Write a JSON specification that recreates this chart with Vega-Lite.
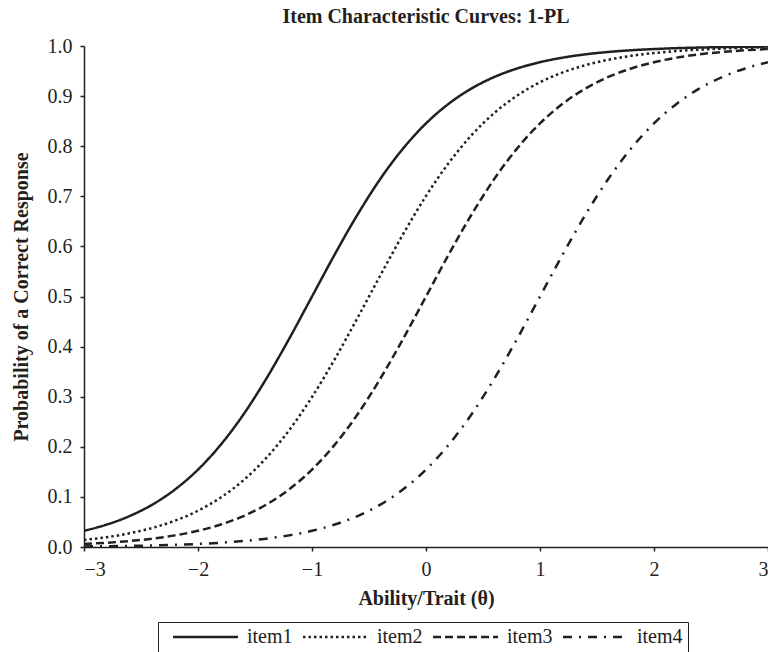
{
  "$schema": "https://vega.github.io/schema/vega-lite/v6.json",
  "autosize": {"type": "none"},
  "padding": {"left": 84, "top": 46, "right": 0, "bottom": 105},
  "width": 684,
  "height": 501,
  "background": "white",
  "title": {
    "text": "Item Characteristic Curves: 1-PL",
    "font": "Liberation Serif",
    "fontSize": 20,
    "fontWeight": "bold",
    "color": "#231f20",
    "anchor": "middle",
    "frame": "group",
    "baseline": "alphabetic",
    "offset": -7
  },
  "data": {
    "values": [
      {"t": -3, "i": "item1", "p": 0.0323}, {"t": -2.8, "i": "item1", "p": 0.0448}, {"t": -2.6, "i": "item1", "p": 0.0618}, {"t": -2.4, "i": "item1", "p": 0.0847}, {"t": -2.2, "i": "item1", "p": 0.1151}, {"t": -2, "i": "item1", "p": 0.1545}, {"t": -1.8, "i": "item1", "p": 0.2043}, {"t": -1.6, "i": "item1", "p": 0.265}, {"t": -1.4, "i": "item1", "p": 0.3363}, {"t": -1.2, "i": "item1", "p": 0.4158}, {"t": -1, "i": "item1", "p": 0.5}, {"t": -0.8, "i": "item1", "p": 0.5842}, {"t": -0.6, "i": "item1", "p": 0.6637}, {"t": -0.4, "i": "item1", "p": 0.735}, {"t": -0.2, "i": "item1", "p": 0.7957}, {"t": 0, "i": "item1", "p": 0.8455}, {"t": 0.2, "i": "item1", "p": 0.8849}, {"t": 0.4, "i": "item1", "p": 0.9153}, {"t": 0.6, "i": "item1", "p": 0.9382}, {"t": 0.8, "i": "item1", "p": 0.9552}, {"t": 1, "i": "item1", "p": 0.9677}, {"t": 1.2, "i": "item1", "p": 0.9768}, {"t": 1.4, "i": "item1", "p": 0.9834}, {"t": 1.6, "i": "item1", "p": 0.9881}, {"t": 1.8, "i": "item1", "p": 0.9915}, {"t": 2, "i": "item1", "p": 0.9939}, {"t": 2.2, "i": "item1", "p": 0.9957}, {"t": 2.4, "i": "item1", "p": 0.9969}, {"t": 2.6, "i": "item1", "p": 0.9978}, {"t": 2.8, "i": "item1", "p": 0.9984}, {"t": 3, "i": "item1", "p": 0.9989},
      {"t": -3, "i": "item2", "p": 0.0141}, {"t": -2.8, "i": "item2", "p": 0.0196}, {"t": -2.6, "i": "item2", "p": 0.0274}, {"t": -2.4, "i": "item2", "p": 0.0381}, {"t": -2.2, "i": "item2", "p": 0.0527}, {"t": -2, "i": "item2", "p": 0.0724}, {"t": -1.8, "i": "item2", "p": 0.0989}, {"t": -1.6, "i": "item2", "p": 0.1335}, {"t": -1.4, "i": "item2", "p": 0.178}, {"t": -1.2, "i": "item2", "p": 0.2333}, {"t": -1, "i": "item2", "p": 0.2994}, {"t": -0.8, "i": "item2", "p": 0.3752}, {"t": -0.6, "i": "item2", "p": 0.4576}, {"t": -0.4, "i": "item2", "p": 0.5424}, {"t": -0.2, "i": "item2", "p": 0.6248}, {"t": 0, "i": "item2", "p": 0.7006}, {"t": 0.2, "i": "item2", "p": 0.7667}, {"t": 0.4, "i": "item2", "p": 0.822}, {"t": 0.6, "i": "item2", "p": 0.8665}, {"t": 0.8, "i": "item2", "p": 0.9011}, {"t": 1, "i": "item2", "p": 0.9276}, {"t": 1.2, "i": "item2", "p": 0.9473}, {"t": 1.4, "i": "item2", "p": 0.9619}, {"t": 1.6, "i": "item2", "p": 0.9726}, {"t": 1.8, "i": "item2", "p": 0.9804}, {"t": 2, "i": "item2", "p": 0.9859}, {"t": 2.2, "i": "item2", "p": 0.99}, {"t": 2.4, "i": "item2", "p": 0.9928}, {"t": 2.6, "i": "item2", "p": 0.9949}, {"t": 2.8, "i": "item2", "p": 0.9963}, {"t": 3, "i": "item2", "p": 0.9974},
      {"t": -3, "i": "item3", "p": 0.0061}, {"t": -2.8, "i": "item3", "p": 0.0085}, {"t": -2.6, "i": "item3", "p": 0.0119}, {"t": -2.4, "i": "item3", "p": 0.0166}, {"t": -2.2, "i": "item3", "p": 0.0232}, {"t": -2, "i": "item3", "p": 0.0323}, {"t": -1.8, "i": "item3", "p": 0.0448}, {"t": -1.6, "i": "item3", "p": 0.0618}, {"t": -1.4, "i": "item3", "p": 0.0847}, {"t": -1.2, "i": "item3", "p": 0.1151}, {"t": -1, "i": "item3", "p": 0.1545}, {"t": -0.8, "i": "item3", "p": 0.2043}, {"t": -0.6, "i": "item3", "p": 0.265}, {"t": -0.4, "i": "item3", "p": 0.3363}, {"t": -0.2, "i": "item3", "p": 0.4158}, {"t": 0, "i": "item3", "p": 0.5}, {"t": 0.2, "i": "item3", "p": 0.5842}, {"t": 0.4, "i": "item3", "p": 0.6637}, {"t": 0.6, "i": "item3", "p": 0.735}, {"t": 0.8, "i": "item3", "p": 0.7957}, {"t": 1, "i": "item3", "p": 0.8455}, {"t": 1.2, "i": "item3", "p": 0.8849}, {"t": 1.4, "i": "item3", "p": 0.9153}, {"t": 1.6, "i": "item3", "p": 0.9382}, {"t": 1.8, "i": "item3", "p": 0.9552}, {"t": 2, "i": "item3", "p": 0.9677}, {"t": 2.2, "i": "item3", "p": 0.9768}, {"t": 2.4, "i": "item3", "p": 0.9834}, {"t": 2.6, "i": "item3", "p": 0.9881}, {"t": 2.8, "i": "item3", "p": 0.9915}, {"t": 3, "i": "item3", "p": 0.9939},
      {"t": -3, "i": "item4", "p": 0.0011}, {"t": -2.8, "i": "item4", "p": 0.0016}, {"t": -2.6, "i": "item4", "p": 0.0022}, {"t": -2.4, "i": "item4", "p": 0.0031}, {"t": -2.2, "i": "item4", "p": 0.0043}, {"t": -2, "i": "item4", "p": 0.0061}, {"t": -1.8, "i": "item4", "p": 0.0085}, {"t": -1.6, "i": "item4", "p": 0.0119}, {"t": -1.4, "i": "item4", "p": 0.0166}, {"t": -1.2, "i": "item4", "p": 0.0232}, {"t": -1, "i": "item4", "p": 0.0323}, {"t": -0.8, "i": "item4", "p": 0.0448}, {"t": -0.6, "i": "item4", "p": 0.0618}, {"t": -0.4, "i": "item4", "p": 0.0847}, {"t": -0.2, "i": "item4", "p": 0.1151}, {"t": 0, "i": "item4", "p": 0.1545}, {"t": 0.2, "i": "item4", "p": 0.2043}, {"t": 0.4, "i": "item4", "p": 0.265}, {"t": 0.6, "i": "item4", "p": 0.3363}, {"t": 0.8, "i": "item4", "p": 0.4158}, {"t": 1, "i": "item4", "p": 0.5}, {"t": 1.2, "i": "item4", "p": 0.5842}, {"t": 1.4, "i": "item4", "p": 0.6637}, {"t": 1.6, "i": "item4", "p": 0.735}, {"t": 1.8, "i": "item4", "p": 0.7957}, {"t": 2, "i": "item4", "p": 0.8455}, {"t": 2.2, "i": "item4", "p": 0.8849}, {"t": 2.4, "i": "item4", "p": 0.9153}, {"t": 2.6, "i": "item4", "p": 0.9382}, {"t": 2.8, "i": "item4", "p": 0.9552}, {"t": 3, "i": "item4", "p": 0.9677}
    ]
  },
  "mark": {"type": "line", "interpolate": "monotone", "strokeWidth": 2.5, "color": "#231f20", "clip": true},
  "encoding": {
    "x": {
      "field": "t",
      "type": "quantitative",
      "scale": {"domain": [-3, 3], "nice": false, "zero": false},
      "axis": {
        "title": "Ability/Trait (θ)",
        "values": [-3, -2, -1, 0, 1, 2, 3],
        "format": "d",
        "labelPadding": 8,
        "titlePadding": 9
      }
    },
    "y": {
      "field": "p",
      "type": "quantitative",
      "scale": {"domain": [0, 1], "nice": false},
      "axis": {
        "title": "Probability of a Correct Response",
        "values": [0, 0.1, 0.2, 0.3, 0.4, 0.5, 0.6, 0.7, 0.8, 0.9, 1],
        "format": ".1f",
        "labelPadding": 8,
        "titlePadding": 16
      }
    },
    "strokeDash": {
      "field": "i",
      "type": "nominal",
      "scale": {
        "domain": ["item1", "item2", "item3", "item4"],
        "range": [[1, 0], [2.5, 3], [8, 4], [9, 7, 2, 7]]
      },
      "legend": {
        "title": null,
        "orient": "none",
        "legendX": 74,
        "legendY": 576,
        "direction": "horizontal",
        "symbolType": "M0,0H13",
        "symbolSize": 100,
        "symbolStrokeWidth": 2.5,
        "symbolStrokeColor": "#231f20",
        "symbolFillColor": "transparent",
        "labelOffset": 64,
        "columnPadding": -9,
        "padding": 5,
        "strokeColor": "#231f20",
        "labelFont": "Liberation Serif",
        "labelFontSize": 20,
        "labelColor": "#231f20"
      }
    }
  },
  "config": {
    "view": {"stroke": null},
    "legend": {"labelFont": "Liberation Serif", "labelFontSize": 20},
    "axis": {
      "grid": false,
      "domainColor": "#231f20",
      "domainWidth": 1.5,
      "tickColor": "#231f20",
      "tickWidth": 1.5,
      "tickSize": 4,
      "labelFont": "Liberation Serif",
      "labelFontSize": 20,
      "labelColor": "#231f20",
      "titleFont": "Liberation Serif",
      "titleFontSize": 20,
      "titleFontWeight": "bold",
      "titleColor": "#231f20"
    }
  }
}
